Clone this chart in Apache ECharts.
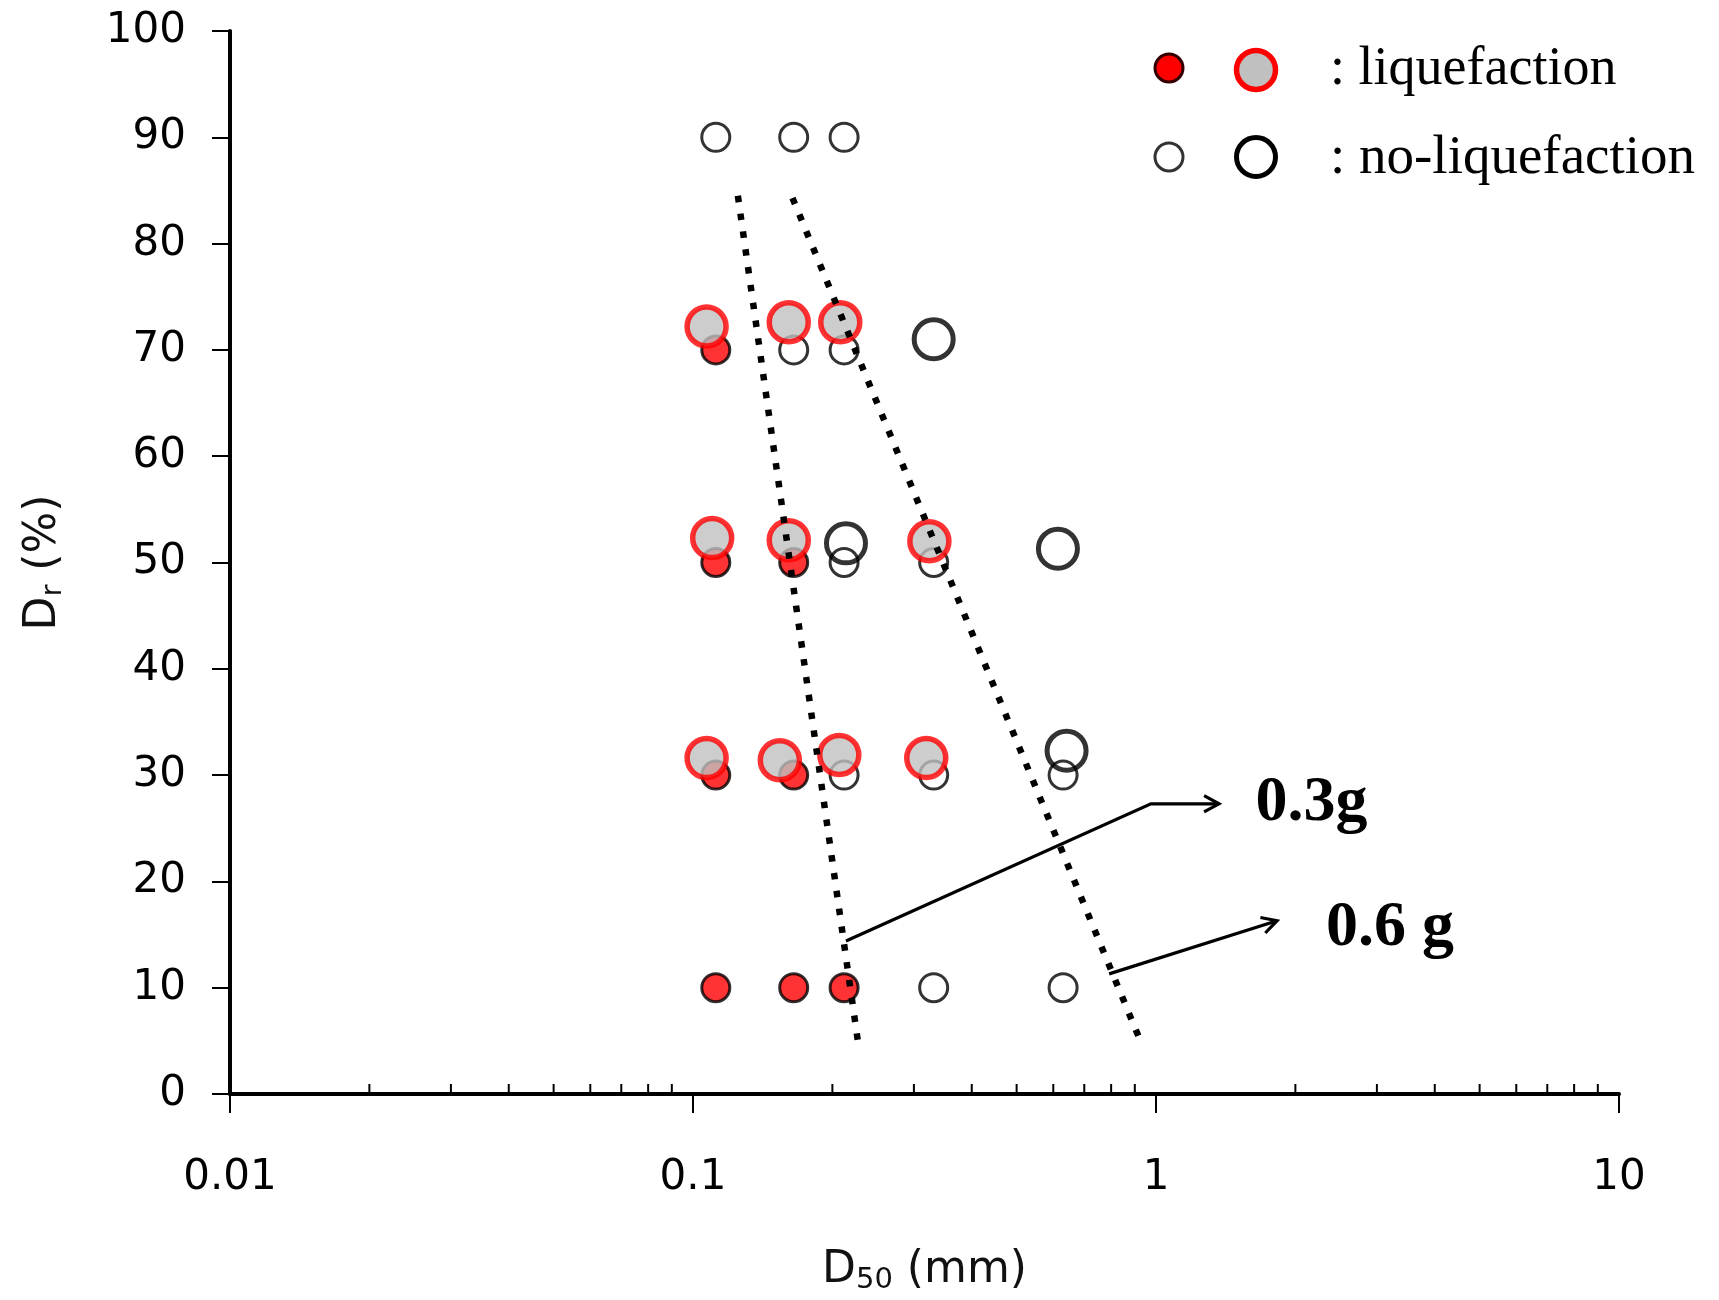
<!DOCTYPE html>
<html>
<head>
<meta charset="utf-8">
<script src="https://cdn.jsdelivr.net/npm/echarts@6/dist/echarts.min.js"></script>
<style>
  html, body { margin: 0; padding: 0; background: #fff; }
  #chart { width: 1719px; height: 1300px; }
</style>
</head>
<body>
<div id="chart"></div>
<script>
// D50 (mm) on x (log), Dr (%) on y
const xTickLabels = ['0.01', '0.1', '1', '10'];
const minorTicks = [0.02, 0.03, 0.04, 0.05, 0.06, 0.07, 0.08, 0.09,
                    0.2, 0.3, 0.4, 0.5, 0.6, 0.7, 0.8, 0.9,
                    2, 3, 4, 5, 6, 7, 8, 9];

// small symbols
const smallLiq = [[0.112, 70], [0.112, 50], [0.165, 50], [0.112, 30], [0.165, 30],
                  [0.112, 10], [0.165, 10], [0.212, 10]];
const smallNoLiq = [[0.112, 90], [0.165, 90], [0.212, 90], [0.165, 70], [0.212, 70],
                    [0.212, 50], [0.331, 50], [0.212, 30], [0.331, 30], [0.63, 30],
                    [0.331, 10], [0.63, 10]];
// large symbols
const bigLiq = [[0.107, 72.2], [0.161, 72.6], [0.208, 72.6],
                [0.110, 52.3], [0.161, 52.1], [0.324, 52.0],
                [0.107, 31.6], [0.154, 31.4], [0.207, 31.9], [0.319, 31.6]];
const bigNoLiq = [[0.331, 71.0], [0.214, 51.8], [0.614, 51.3], [0.641, 32.3]];

// boundary lines
const line03 = [[0.125, 84.5], [0.2275, 4.7]];
const line06 = [[0.164, 84.3], [0.923, 5.1]];

// annotation arrows + labels
const arrow03 = [[0.214, 14.4], [0.975, 27.3], [1.368, 27.3]];
const arrow06 = [[0.792, 11.3], [1.826, 16.3]];
const labels = [['0.3g', 1.64, 27.3], ['0.6 g', 2.33, 15.6]];

const chart = echarts.init(document.getElementById('chart'));

const axisFont = { fontFamily: 'DejaVu Sans', fontSize: 42, color: '#000' };
const nameRich = {
  m: { fontFamily: 'DejaVu Sans', fontSize: 44, color: '#111' },
  s: { fontFamily: 'DejaVu Sans', fontSize: 29, color: '#111', padding: [20, 0, 0, 0] }
};

const option = {
  animation: false,
  backgroundColor: '#fff',
  grid: { left: 230, top: 31, width: 1389, height: 1063 },
  xAxis: {
    type: 'log',
    logBase: 10,
    min: 0.01,
    max: 10,
    name: '{m|D}{s|50}{m| (mm)}',
    nameLocation: 'middle',
    nameGap: 152,
    nameTextStyle: { rich: nameRich },
    axisLine: { lineStyle: { color: '#000', width: 4 } },
    axisTick: { length: 19, lineStyle: { color: '#000', width: 2 } },
    axisLabel: Object.assign({ margin: 63, formatter: (v, i) => xTickLabels[i] }, axisFont),
    splitLine: { show: false }
  },
  yAxis: {
    type: 'value',
    min: 0,
    max: 100,
    interval: 10,
    name: '{m|D}{s|r}{m| (%)}',
    nameLocation: 'middle',
    nameGap: 162,
    nameTextStyle: { rich: nameRich },
    axisLine: { lineStyle: { color: '#000', width: 4 } },
    axisTick: { length: 18, lineStyle: { color: '#000', width: 2 } },
    axisLabel: Object.assign({ margin: 44 }, axisFont),
    splitLine: { show: false }
  },
  series: [
    {
      // minor ticks on the log axis, pointing inward
      type: 'custom',
      silent: true,
      data: minorTicks.map(v => [v, 0]),
      renderItem: (params, api) => {
        const p = api.coord([api.value(0), 0]);
        return {
          type: 'line',
          shape: { x1: p[0], y1: p[1], x2: p[0], y2: p[1] - 10 },
          style: { stroke: '#000', lineWidth: 2 }
        };
      },
      z: 1
    },
    {
      type: 'scatter',
      data: smallNoLiq,
      symbol: 'circle',
      symbolSize: 28,
      itemStyle: { color: 'rgba(255,255,255,0)', borderColor: '#000', borderWidth: 3 },
      z: 2
    },
    {
      type: 'scatter',
      data: smallLiq,
      symbol: 'circle',
      symbolSize: 28,
      itemStyle: { color: '#ff0000', borderColor: '#000', borderWidth: 3 },
      z: 2
    },
    {
      type: 'scatter',
      data: bigLiq,
      symbol: 'circle',
      symbolSize: 39,
      itemStyle: { color: '#c0c0c0', borderColor: '#ff0000', borderWidth: 5.5 },
      z: 3
    },
    {
      type: 'scatter',
      data: bigNoLiq,
      symbol: 'circle',
      symbolSize: 39,
      itemStyle: { color: 'rgba(255,255,255,0)', borderColor: '#000', borderWidth: 5 },
      z: 3
    },
    {
      type: 'line',
      data: line03,
      symbol: 'none',
      lineStyle: { color: '#000', width: 6.5, type: [6.5, 11.5], cap: 'butt' },
      z: 4
    },
    {
      type: 'line',
      data: line06,
      symbol: 'none',
      lineStyle: { color: '#000', width: 6.5, type: [6.5, 11.5], cap: 'butt' },
      z: 4
    },
    {
      // arrows to the 0.3g / 0.6g labels
      type: 'custom',
      silent: true,
      clip: false,
      data: [0, 1],
      renderItem: (params, api) => {
        const pts = (params.dataIndex === 0 ? arrow03 : arrow06).map(p => api.coord(p));
        const a = pts[pts.length - 2], b = pts[pts.length - 1];
        const ang = Math.atan2(b[1] - a[1], b[0] - a[0]);
        const hl = 17, hw = 0.5;
        const h1 = [b[0] - hl * Math.cos(ang - hw), b[1] - hl * Math.sin(ang - hw)];
        const h2 = [b[0] - hl * Math.cos(ang + hw), b[1] - hl * Math.sin(ang + hw)];
        const lab = labels[params.dataIndex];
        const lp = api.coord([lab[1], lab[2]]);
        return {
          type: 'group',
          children: [
            { type: 'polyline', shape: { points: pts }, style: { stroke: '#000', lineWidth: 3.2, fill: null } },
            { type: 'polyline', shape: { points: [h1, b, h2] }, style: { stroke: '#000', lineWidth: 3.2, fill: null } },
            {
              type: 'text', x: lp[0], y: lp[1],
              style: {
                text: lab[0], fill: '#000', font: 'bold 64px "Liberation Serif"',
                align: 'left', verticalAlign: 'middle'
              }
            }
          ]
        };
      },
      z: 5
    }
  ],
  graphic: [
    { type: 'circle', shape: { cx: 1169, cy: 68, r: 14 }, style: { fill: '#ff0000', stroke: '#300', lineWidth: 3 } },
    { type: 'circle', shape: { cx: 1256, cy: 70, r: 19.5 }, style: { fill: '#c0c0c0', stroke: '#ff0000', lineWidth: 5.5 } },
    { type: 'text', x: 1330, y: 70, style: { text: ': liquefaction', font: '54px "Liberation Serif"', fill: '#000', verticalAlign: 'middle' } },
    { type: 'circle', shape: { cx: 1169, cy: 157, r: 14 }, style: { fill: '#fff', stroke: '#333', lineWidth: 3 } },
    { type: 'circle', shape: { cx: 1256, cy: 157, r: 19.5 }, style: { fill: '#fff', stroke: '#000', lineWidth: 5 } },
    { type: 'text', x: 1330, y: 159, style: { text: ': no-liquefaction', font: '55px "Liberation Serif"', fill: '#000', verticalAlign: 'middle' } }
  ]
};

chart.setOption(option);
</script>
</body>
</html>
